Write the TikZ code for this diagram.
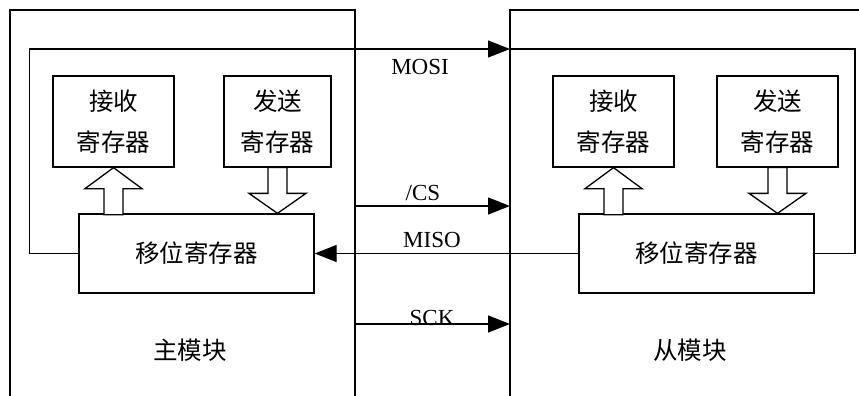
\documentclass[tikz,border=0pt]{standalone}
\usepackage{fontspec}
\setmainfont{Liberation Serif}
\newfontfamily\cjk{Noto Sans CJK SC}
\usetikzlibrary{arrows.meta,calc}
\begin{document}
\begin{tikzpicture}[x=1pt,y=-1pt,
  line width=1.3pt,
  reg/.style={draw,rectangle,inner sep=0pt,align=center,
    font=\cjk\fontsize{24.5}{41}\selectfont},
  hollow/.style={draw,fill=white,line join=miter},
  sig/.style={-{Triangle[length=22pt,width=17pt]}},
  lbl/.style={font=\fontsize{23}{26}\selectfont,inner sep=0pt},
  modname/.style={font=\cjk\fontsize{24.5}{28}\selectfont,inner sep=0pt}]
\useasboundingbox (0,0) rectangle (859,396);

% module outlines (open at the bottom / right)
\coordinate (mBL) at (10,396);
\coordinate (mTL) at (10,10);
\coordinate (mTR) at (355,10);
\coordinate (mBR) at (355,396);
\coordinate (sBL) at (510,396);
\coordinate (sTL) at (510,10);
\coordinate (sTR) at (859,10);
\draw (mBL) -- (mTL) -- (mTR) -- (mBR);
\draw (sBL) -- (sTL) -- (sTR);

% master registers
\node[reg,minimum width=121pt,minimum height=91pt] (rcvA) at (113.5,121.5) {接收\\寄存器};
\node[reg,minimum width=107pt,minimum height=91pt] (sndA) at (277.5,121.5) {发送\\寄存器};
\node[reg,minimum width=235pt,minimum height=79pt] (srA) at (196.5,253.5) {移位寄存器};

% slave registers
\node[reg,minimum width=121pt,minimum height=91pt] (rcvB) at (613.5,121.5) {接收\\寄存器};
\node[reg,minimum width=121pt,minimum height=91pt] (sndB) at (777.5,121.5) {发送\\寄存器};
\node[reg,minimum width=235pt,minimum height=79pt] (srB) at (696.5,253.5) {移位寄存器};

% hollow block arrows between the registers
\draw[hollow] (rcvA.south) -- ++(28.5,21) -- ++(-19,0) -- ++(0,26) -- ++(-19,0)
  -- ++(0,-26) -- ++(-19,0) -- cycle;
\draw[hollow] (srA.north -| sndA.south) -- ++(28.5,-20) -- ++(-19,0) -- ++(0,-26)
  -- ++(-19,0) -- ++(0,26) -- ++(-19,0) -- cycle;
\draw[hollow] (rcvB.south) -- ++(28.5,21) -- ++(-19,0) -- ++(0,26) -- ++(-19,0)
  -- ++(0,-26) -- ++(-19,0) -- cycle;
\draw[hollow] (srB.north -| sndB.south) -- ++(28.5,-20) -- ++(-19,0) -- ++(0,-26)
  -- ++(-19,0) -- ++(0,26) -- ++(-19,0) -- cycle;

% bus end points on the module borders
\coordinate (mosiIn) at (510,49);
\coordinate (csA) at (355,206);
\coordinate (csB) at (510,206);
\coordinate (sckA) at (355,324);
\coordinate (sckB) at (510,324);

% MOSI: master shift register out, around, into the slave shift register
\draw[sig] (srA.west) -- ++(-49,0) |- (mosiIn);
\draw (mosiIn) -- ++(345,0) |- (srB.east);
% MISO
\draw[sig] (srB.west) -- (srA.east);
% /CS and SCK
\draw[sig] (csA) -- (csB);
\draw[sig] (sckA) -- (sckB);

% signal names
\node[lbl] (tMOSI) at (420,67) {MOSI};
\node[lbl] (tCS) at (423,193) {/CS};
\node[lbl] (tMISO) at (432,240) {MISO};
\node[lbl] (tSCK) at (432,318) {SCK};

% module names
\node[modname] (tMaster) at (190,350) {主模块};
\node[modname] (tSlave) at (690,350) {从模块};
\end{tikzpicture}
\end{document}
